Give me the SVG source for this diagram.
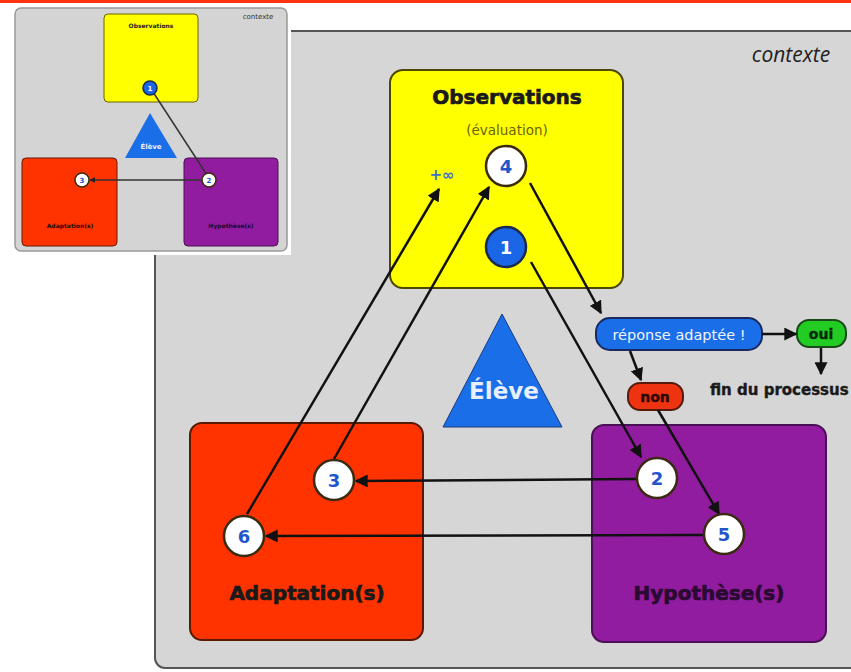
<svg xmlns="http://www.w3.org/2000/svg" width="851" height="672" viewBox="0 0 851 672">
<defs>
<marker id="ah" viewBox="0 0 10 10" refX="9" refY="5" markerWidth="13" markerHeight="13" markerUnits="userSpaceOnUse" orient="auto">
<path d="M0,0 L10,5 L0,10 z" fill="#111"/>
</marker>
<marker id="ahs" viewBox="0 0 10 10" refX="9" refY="5" markerWidth="6" markerHeight="6" markerUnits="userSpaceOnUse" orient="auto">
<path d="M0,0 L10,5 L0,10 z" fill="#222"/>
</marker>
</defs>
<style>
.t{font-family:"DejaVu Sans","Liberation Sans",sans-serif;font-weight:bold;text-anchor:middle}
.big{font-size:20px;fill:#1a1a1a;stroke:#1a1a1a;stroke-width:0.7}
.num{font-size:18px;fill:#2255cc}
.wc{fill:#ffffff;stroke:#3a2a10;stroke-width:2.5}
.bc{fill:#1a66e6;stroke:#1a2a50;stroke-width:2.5}
.ln{stroke:#111;stroke-width:2.5;fill:none}
.lns{stroke:#333;stroke-width:1.5;fill:none}
.pill{font-size:14px}
</style>
<rect x="0" y="0" width="851" height="672" fill="#ffffff"/>
<rect x="0" y="0" width="851" height="3" fill="#ff3311"/>

<g id="contexte">
<rect x="155" y="31" width="730" height="637" rx="10" fill="#d6d6d6" stroke="#555" stroke-width="2"/>
<text x="791" y="62" font-family="'Open Sans','DejaVu Sans',sans-serif" font-style="italic" font-size="21" fill="#222" text-anchor="middle">contexte</text>
</g>

<g id="observations">
<rect x="390" y="70" width="233" height="218" rx="13" fill="#ffff00" stroke="#4d4700" stroke-width="2"/>
<text class="t big" x="507" y="104">Observations</text>
<text x="507" y="135" font-family="'DejaVu Sans',sans-serif" font-size="13.5" fill="#6b6400" text-anchor="middle">(évaluation)</text>
<text x="442" y="180" font-family="'DejaVu Sans',sans-serif" font-weight="bold" font-size="15" fill="#3a70d0" text-anchor="middle">+∞</text>
</g>

<g id="eleve">
<polygon points="502,314 443,427 562,427" fill="#1a6ee8" stroke="#1a3a80" stroke-width="1"/>
<text x="504" y="399" font-family="'DejaVu Sans',sans-serif" font-weight="bold" font-size="23" fill="#e8f0ff" text-anchor="middle">Élève</text>
</g>

<g id="adaptation">
<rect x="190" y="423" width="233" height="217" rx="12" fill="#ff3300" stroke="#5a1a00" stroke-width="2"/>
<text class="t big" x="307" y="600">Adaptation(s)</text>
</g>

<g id="hypothese">
<rect x="592" y="425" width="234" height="217" rx="12" fill="#921c9f" stroke="#4a0f55" stroke-width="2"/>
<text class="t big" x="709" y="600" style="fill:#2a0a30;stroke:#2a0a30">Hypothèse(s)</text>
</g>

<g id="reponse">
<rect x="596" y="318" width="166" height="32" rx="14" fill="#1a6ee8" stroke="#1a2a60" stroke-width="2"/>
<text x="679" y="340" font-family="'DejaVu Sans',sans-serif" font-size="14.5" fill="#f0f4ff" text-anchor="middle">réponse adaptée !</text>
</g>
<g id="oui">
<rect x="797" y="320" width="49" height="27" rx="12" fill="#22cc22" stroke="#1a4a1a" stroke-width="2"/>
<text class="t pill" x="821" y="339" fill="#0a2a0a" stroke="#0a2a0a" stroke-width="0.4">oui</text>
</g>
<g id="non">
<rect x="628" y="383" width="55" height="27" rx="12" fill="#ee3311" stroke="#5a1a0a" stroke-width="2"/>
<text class="t pill" x="655" y="402" fill="#2a0a05" stroke="#2a0a05" stroke-width="0.4">non</text>
</g>
<g id="fin">
<text x="710" y="395" font-family="'DejaVu Sans',sans-serif" font-weight="bold" font-size="15" fill="#1a1a1a" stroke="#1a1a1a" stroke-width="0.4">fin du processus</text>
</g>

<g id="connectors">
<line class="ln" x1="247" y1="514" x2="439" y2="189" marker-end="url(#ah)"/>
<line class="ln" x1="334" y1="459" x2="489" y2="187" marker-end="url(#ah)"/>
<line class="ln" x1="530" y1="183" x2="601" y2="313" marker-end="url(#ah)"/>
<line class="ln" x1="531" y1="262" x2="641" y2="457" marker-end="url(#ah)"/>
<line class="ln" x1="658" y1="410" x2="719" y2="514" marker-end="url(#ah)"/>
<line class="ln" x1="630" y1="351" x2="641" y2="380" marker-end="url(#ah)"/>
<line class="ln" x1="636" y1="479" x2="356" y2="481" marker-end="url(#ah)"/>
<line class="ln" x1="703" y1="535" x2="266" y2="536" marker-end="url(#ah)"/>
<line class="ln" x1="762" y1="334" x2="796" y2="334" marker-end="url(#ah)"/>
<line class="ln" x1="821" y1="348" x2="821" y2="374" marker-end="url(#ah)"/>
</g>

<g id="c4"><circle class="wc" cx="506" cy="166" r="20"/><text class="t num" x="506" y="173">4</text></g>
<g id="c1"><circle class="bc" cx="506" cy="247" r="20"/><text class="t num" x="506" y="254" style="fill:#ffffff">1</text></g>
<g id="c3"><circle class="wc" cx="334" cy="480" r="20"/><text class="t num" x="334" y="487">3</text></g>
<g id="c2"><circle class="wc" cx="657" cy="478" r="20"/><text class="t num" x="657" y="485">2</text></g>
<g id="c6"><circle class="wc" cx="244" cy="536" r="20"/><text class="t num" x="244" y="543">6</text></g>
<g id="c5"><circle class="wc" cx="724" cy="534" r="20"/><text class="t num" x="724" y="541">5</text></g>

<g id="inset">
<rect x="12" y="5" width="279" height="250" fill="#ffffff"/>
<rect x="15" y="8" width="272" height="243" rx="6" fill="#d4d4d4" stroke="#999" stroke-width="1.5"/>
<text x="258" y="19" font-family="'DejaVu Sans',sans-serif" font-size="7" fill="#333" text-anchor="middle">contexte</text>
<rect x="104" y="14" width="94" height="88" rx="4" fill="#ffff00" stroke="#6a6400" stroke-width="1"/>
<text class="t" x="151" y="28" font-size="6" fill="#222">Observations</text>
<polygon points="150,113 125,158 177,158" fill="#1a6ee8"/>
<text class="t" x="151" y="149" font-size="7" fill="#e8f0ff">Élève</text>
<rect x="22" y="158" width="95" height="88" rx="4" fill="#ff3300" stroke="#6a1a00" stroke-width="1"/>
<text class="t" x="70" y="228" font-size="6" fill="#220a00">Adaptation(s)</text>
<rect x="184" y="158" width="94" height="88" rx="4" fill="#921c9f" stroke="#4a0f55" stroke-width="1"/>
<text class="t" x="231" y="228" font-size="6" fill="#200828">Hypothèse(s)</text>
<line class="lns" x1="153" y1="92" x2="207" y2="175"/>
<line class="lns" x1="202" y1="180" x2="90" y2="180" marker-end="url(#ahs)"/>
<circle cx="150" cy="88" r="7" fill="#1a66e6" stroke="#1a2a50" stroke-width="1.5"/>
<text class="t" x="150" y="91" font-size="7" fill="#fff">1</text>
<circle cx="209" cy="180" r="7" fill="#fff" stroke="#3a2a10" stroke-width="1.5"/>
<text class="t" x="209" y="183" font-size="7" fill="#2255cc">2</text>
<circle cx="82" cy="180" r="7" fill="#fff" stroke="#3a2a10" stroke-width="1.5"/>
<text class="t" x="82" y="183" font-size="7" fill="#2255cc">3</text>
</g>
</svg>
